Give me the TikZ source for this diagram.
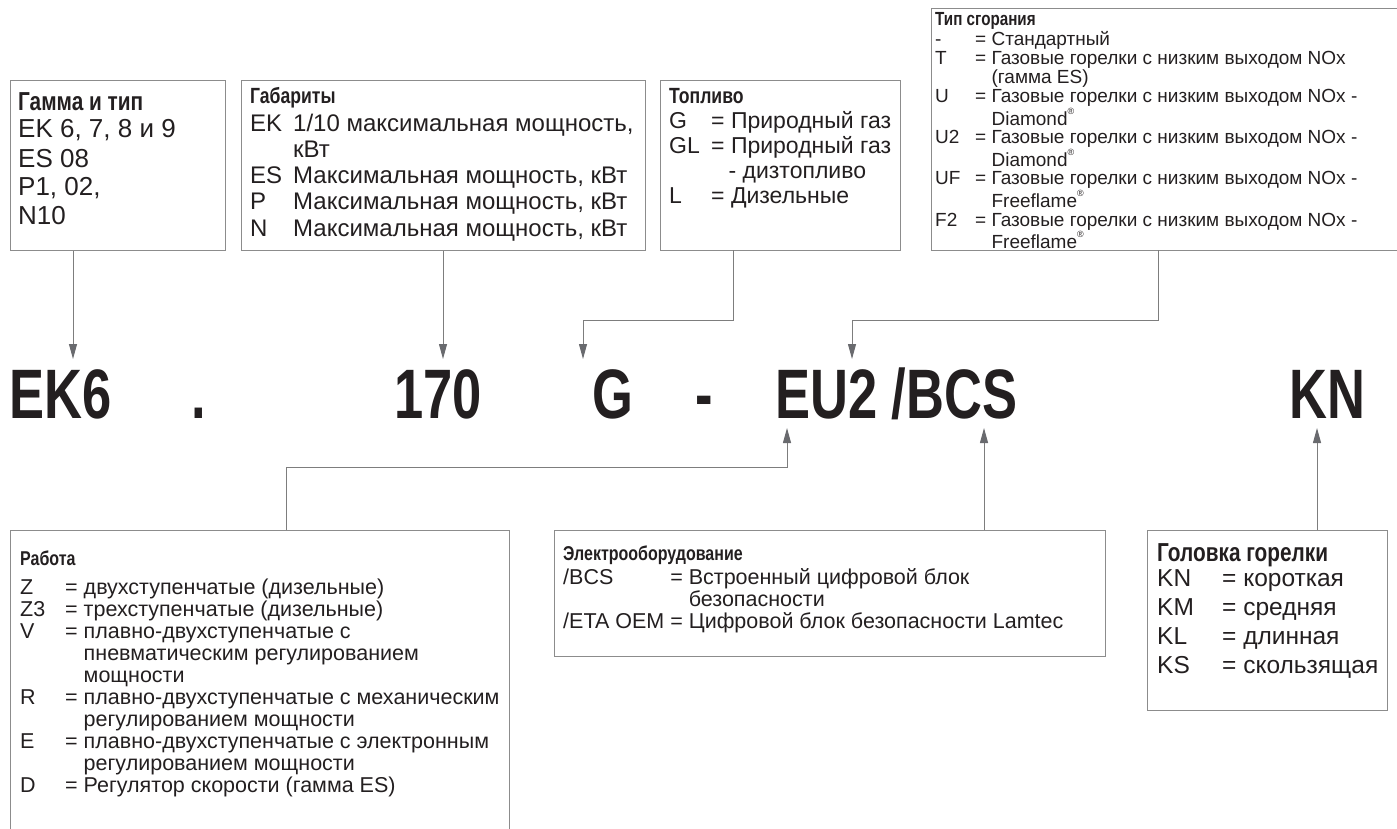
\documentclass[tikz,border=0pt]{standalone}
\usepackage{fontspec}
\setmainfont{Liberation Sans}
\newfontfamily\codefont{Liberation Sans}[FakeStretch=0.75]
\newfontfamily\headfont{Liberation Sans}[FakeStretch=0.8]
\usetikzlibrary{arrows.meta}
\definecolor{ink}{RGB}{35,31,32}
\definecolor{framegray}{RGB}{140,140,140}
\definecolor{linkgray}{RGB}{125,125,125}
\definecolor{tipgray}{RGB}{105,106,110}
\newcommand{\fs}[2]{\fontsize{#1}{#2}\selectfont}
\newcommand{\reg}{\raisebox{0.55em}{\fontsize{9}{9}\selectfont ®}}

\begin{document}
\begin{tikzpicture}[x=1pt, y=-1pt,
		frame/.style={draw=framegray, line width=1.3pt, anchor=north west, inner sep=0pt},
		list/.style={anchor=north west, inner sep=0pt, text=ink},
		head/.style={anchor=base west, inner sep=0pt, text=ink},
		code/.style={anchor=base west, inner sep=0pt, text=ink, font=\codefont\bfseries\fs{70}{70}},
		link/.style={draw=linkgray, line width=1pt, -{Triangle[length=15pt, width=8pt, color=tipgray]}}]
		\useasboundingbox (0,0) rectangle (1397,829);

		\node[frame, minimum width=215, minimum height=170] (gamma) at (10,80) {};
		\node[frame, minimum width=404, minimum height=170] (size) at (241,80) {};
		\node[frame, minimum width=240, minimum height=170] (fuel) at (660,80) {};
		\node[frame, minimum width=480, minimum height=242] (flame) at (931,8) {};
		\node[frame, minimum width=499, minimum height=400] (mode) at (10,530) {};
		\node[frame, minimum width=551, minimum height=126] (elec) at (554,530) {};
		\node[frame, minimum width=240, minimum height=180] (burner) at (1147,530) {};

		\node[head, font={\headfont\bfseries\fs{26}{26}}] (gammahead) at (18,111) {Гамма и тип};
		\node[list, font={\fs{26}{29}}] (gammalist) at (18,117.5) {\begin{tabular}{@{}l@{}}
			EK 6, 7, 8 и 9\\ES 08\\P1, 02,\\N10
		\end{tabular}};

		\node[head, font={\headfont\bfseries\fs{22}{22}}] (sizehead) at (250,104) {Габариты};
		\node[list, font={\fs{24}{26.25}}] (sizelist) at (250,112.6) {\begin{tabular}{@{}p{43pt}@{}l@{}}
			EK & 1/10 максимальная мощность,\\
			& кВт\\
			ES & Максимальная мощность, кВт\\
			P & Максимальная мощность, кВт\\
			N & Максимальная мощность, кВт
		\end{tabular}};

		\node[head, font={\headfont\bfseries\fs{22}{22}}] (fuelhead) at (669,104) {Топливо};
		\node[list, font={\fs{23}{25}}] (fuellist) at (669,110.5) {\begin{tabular}{@{}p{42pt}@{}l@{}}
			G & = Природный газ\\
			GL & = Природный газ\\
			& \hphantom{=}\hspace{4pt}- дизтопливо\\
			L & = Дизельные
		\end{tabular}};

		\node[head, font={\headfont\bfseries\fs{19}{19}}] (flamehead) at (935,26) {Тип сгорания};
		\node[list, font={\fs{19}{18.5}}] (flamelist) at (935,31.5) {\begin{tabular}{@{}p{40pt}@{}l@{}}
			- & = Стандартный\\
			T & = Газовые горелки с низким выходом NOx\\
			& \hphantom{= }(гамма ES)\\
			U & = Газовые горелки с низким выходом NOx -\\
			& \hphantom{= }Diamond\reg\\
			U2 & = Газовые горелки с низким выходом NOx -\\
			& \hphantom{= }Diamond\reg\\
			UF & = Газовые горелки с низким выходом NOx -\\
			& \hphantom{= }Freeflame\reg\\
			F2 & = Газовые горелки с низким выходом NOx -\\
			& \hphantom{= }Freeflame\reg
		\end{tabular}};

		\node[head, font={\headfont\bfseries\fs{20}{20}}] (modehead) at (20,565) {Работа};
		\node[list, font={\fs{21.5}{22}}] (modelist) at (20,578.6) {\begin{tabular}{@{}p{45pt}@{}l@{}}
			Z & = двухступенчатые (дизельные)\\
			Z3 & = трехступенчатые (дизельные)\\
			V & = плавно-двухступенчатые с\\
			& \hphantom{= }пневматическим регулированием\\
			& \hphantom{= }мощности\\
			R & = плавно-двухступенчатые с механическим\\
			& \hphantom{= }регулированием мощности\\
			E & = плавно-двухступенчатые с электронным\\
			& \hphantom{= }регулированием мощности\\
			D & = Регулятор скорости (гамма ES)
		\end{tabular}};

		\node[head, font={\headfont\bfseries\fs{20}{20}}] (elechead) at (563,560) {Электрооборудование};
		\node[list, font={\fs{21.5}{21}}] (eleclist) at (563,568.3) {\begin{tabular}{@{}l@{ }l@{}}
			/BCS & = Встроенный цифровой блок\\
			& \hphantom{= }безопасности\\
			/ETA OEM & = Цифровой блок безопасности Lamtec
		\end{tabular}};

		\node[head, font={\headfont\bfseries\fs{26}{26}}] (burnerhead) at (1157,561) {Головка горелки};
		\node[list, font={\fs{24.5}{29}}] (burnerlist) at (1157,565.7) {\begin{tabular}{@{}p{65pt}@{}l@{}}
			KN & = короткая\\
			KM & = средняя\\
			KL & = длинная\\
			KS & = скользящая
		\end{tabular}};

		\node[code] (range) at (9,418) {EK6};
		\node[code] (dot) at (191,418) {.};
		\node[code] (power) at (394,418) {170};
		\node[code] (fuelcode) at (592,418) {G};
		\node[code] (dash) at (695,418) {-};
		\node[code] (flamecode) at (775,418) {EU2 /BCS};
		\node[code] (burnercode) at (1289,418) {KN};

		\coordinate (topbend) at (0,320);
		\coordinate (lowbend) at (0,467);
		\coordinate (fuelout) at (733,250);
		\coordinate (flameout) at (1158,250);
		\coordinate (modeout) at (286,530);
		\coordinate (tiprange) at (73,359);
		\coordinate (tippower) at (443,359);
		\coordinate (tipfuel) at (583,359);
		\coordinate (tipflame) at (852,359);
		\coordinate (tipmode) at (787,428);
		\coordinate (tipelec) at (984,428);
		\coordinate (tipburner) at (1317,428);

		\draw[link] (gamma.south -| tiprange) -- (tiprange);
		\draw[link] (size.south -| tippower) -- (tippower);
		\draw[link] (fuelout) |- (topbend -| tipfuel) -- (tipfuel);
		\draw[link] (flameout) |- (topbend -| tipflame) -- (tipflame);
		\draw[link] (modeout) |- (lowbend -| tipmode) -- (tipmode);
		\draw[link] (elec.north -| tipelec) -- (tipelec);
		\draw[link] (burner.north -| tipburner) -- (tipburner);
	\end{tikzpicture}
\end{document}
